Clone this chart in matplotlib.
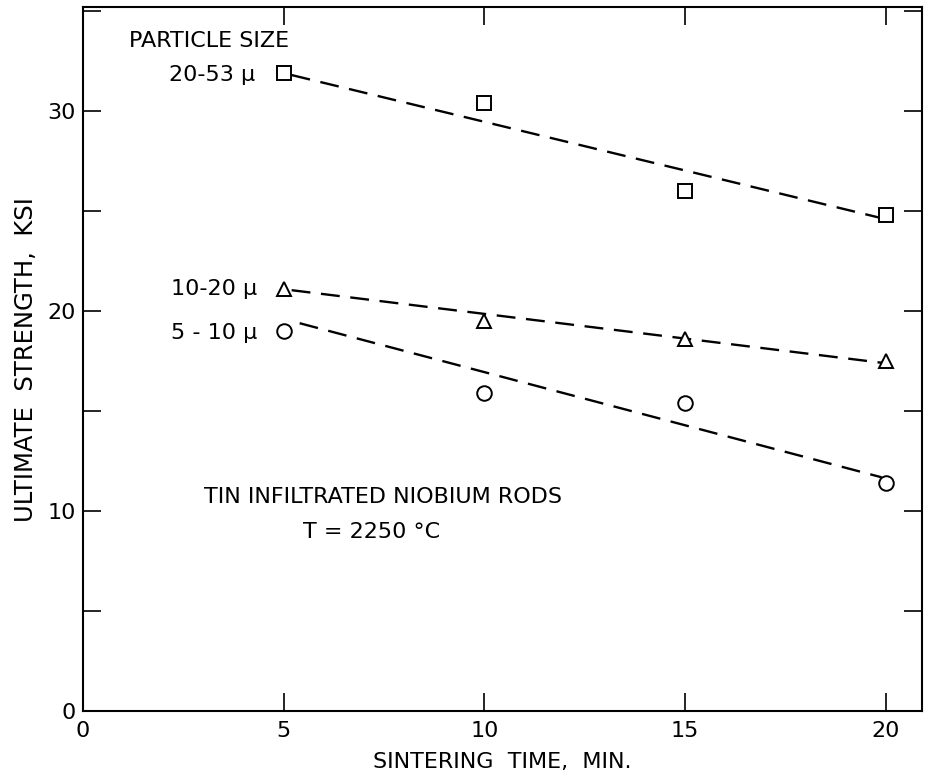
import matplotlib
matplotlib.use("Agg")
import matplotlib.pyplot as plt
from matplotlib.ticker import MultipleLocator

# ---- data ----
time_min = [5, 10, 15, 20]
s_20_53 = [31.9, 30.4, 26.0, 24.8]
s_10_20 = [21.1, 19.5, 18.6, 17.5]
s_5_10 = [19.0, 15.9, 15.4, 11.4]

fit_20_53_x = [5.2, 20.0]
fit_20_53_y = [31.8, 24.6]
fit_10_20_x = [5.2, 20.0]
fit_10_20_y = [21.05, 17.4]
fit_5_10_x = [5.4, 19.9]
fit_5_10_y = [19.4, 11.7]

series_labels = ["20-53 μ", "10-20 μ", "5 - 10 μ"]
x_ticks = [0, 5, 10, 15, 20]
y_ticks = [0, 10, 20, 30]

fig = plt.figure(figsize=(9.32, 7.79), dpi=100)
ax = fig.add_axes([0.089, 0.0867, 0.900, 0.9043])
ax.set_xlim(0, 20.9)
ax.set_ylim(0, 35.2)

dash = dict(color="black", lw=1.7, dashes=(8, 4.5))
ax.plot(fit_20_53_x, fit_20_53_y, **dash)
ax.plot(fit_10_20_x, fit_10_20_y, **dash)
ax.plot(fit_5_10_x, fit_5_10_y, **dash)

mk = dict(ls="none", mfc="white", mec="black", mew=1.4, ms=10.5, zorder=3)
ax.plot(time_min, s_20_53, marker="s", **mk)
ax.plot(time_min, s_10_20, marker="^", **mk)
ax.plot(time_min, s_5_10, marker="o", **mk)

ax.set_xticks(x_ticks)
ax.set_yticks(y_ticks)
ax.yaxis.set_minor_locator(MultipleLocator(5))
ax.tick_params(which="both", direction="in", top=True, right=True,
               length=13, width=1.2, labelsize=16, pad=5)
ax.tick_params(axis="x", which="major", pad=7)
for sp in ax.spines.values():
    sp.set_linewidth(1.5)

ax.set_xlabel("SINTERING  TIME,  MIN.", fontsize=16, labelpad=8)
ax.set_ylabel("ULTIMATE  STRENGTH,  KSI", fontsize=17.5, labelpad=7)

fs = 16
ax.text(1.15, 33.5, "PARTICLE SIZE", fontsize=fs, ha="left", va="center")
ax.text(4.3, 31.8, series_labels[0], fontsize=fs, ha="right", va="center")
ax.text(4.35, 21.1, series_labels[1], fontsize=fs, ha="right", va="center")
ax.text(4.35, 18.9, series_labels[2], fontsize=fs, ha="right", va="center")
ax.text(7.48, 10.7, "TIN INFILTRATED NIOBIUM RODS", fontsize=fs, ha="center", va="center")
ax.text(7.2, 8.97, "T = 2250 °C", fontsize=fs, ha="center", va="center")

fig.savefig("out.png", dpi=100)
